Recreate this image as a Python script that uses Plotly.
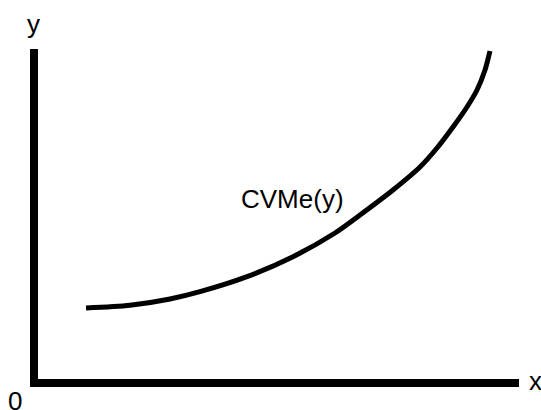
import plotly.graph_objects as go

# Curve CVMe(y): x and y values in chart units (origin at axes corner)
curve_x = [48, 92, 132, 162, 209, 255, 297, 322, 355, 382, 399, 415, 429, 439, 447, 451, 452]
curve_y = [71, 73.7, 80, 87.3, 102.3, 122.3, 146, 164, 189, 212, 231, 252, 272, 289, 309, 324, 328]
curve_label = "CVMe(y)"
x_label = "x"
y_label = "y"
origin_label = "0"

FONT = "Liberation Sans, Arial, sans-serif"

fig = go.Figure()
fig.add_trace(go.Scatter(
    x=curve_x, y=curve_y, mode="lines",
    line=dict(color="black", width=5, shape="spline", smoothing=0.8),
    cliponaxis=False, hoverinfo="skip", showlegend=False,
))

fig.add_annotation(x=254, y=180, text=curve_label, showarrow=False,
                   xanchor="center", yanchor="middle",
                   font=dict(family=FONT, size=26, color="black"))
fig.add_annotation(x=1.0, y=0, xref="paper", yref="y", text=x_label, showarrow=False,
                   xanchor="left", yanchor="middle", xshift=8, yshift=-2,
                   font=dict(family=FONT, size=26, color="black"))
fig.add_annotation(x=0, y=1.0, xref="x", yref="paper", text=y_label, showarrow=False,
                   xanchor="center", yanchor="bottom", xshift=-5, yshift=8,
                   font=dict(family=FONT, size=26, color="black"))
fig.add_annotation(x=0, y=0, xref="paper", yref="paper", text=origin_label, showarrow=False,
                   xanchor="right", yanchor="top", xshift=-14, yshift=-5,
                   font=dict(family=FONT, size=26, color="black"))

fig.update_xaxes(range=[0, 481], showline=True, linewidth=8, linecolor="black",
                 showgrid=False, zeroline=False, showticklabels=False, ticks="")
fig.update_yaxes(range=[0, 330], showline=True, linewidth=8, linecolor="black",
                 showgrid=False, zeroline=False, showticklabels=False, ticks="")
fig.update_layout(width=541, height=410, margin=dict(l=38, r=22, t=49, b=31),
                  plot_bgcolor="white", paper_bgcolor="white")

fig.write_html("out.html", config={"displayModeBar": False},
               post_script="document.body.style.margin='0';document.body.style.overflow='hidden';")
